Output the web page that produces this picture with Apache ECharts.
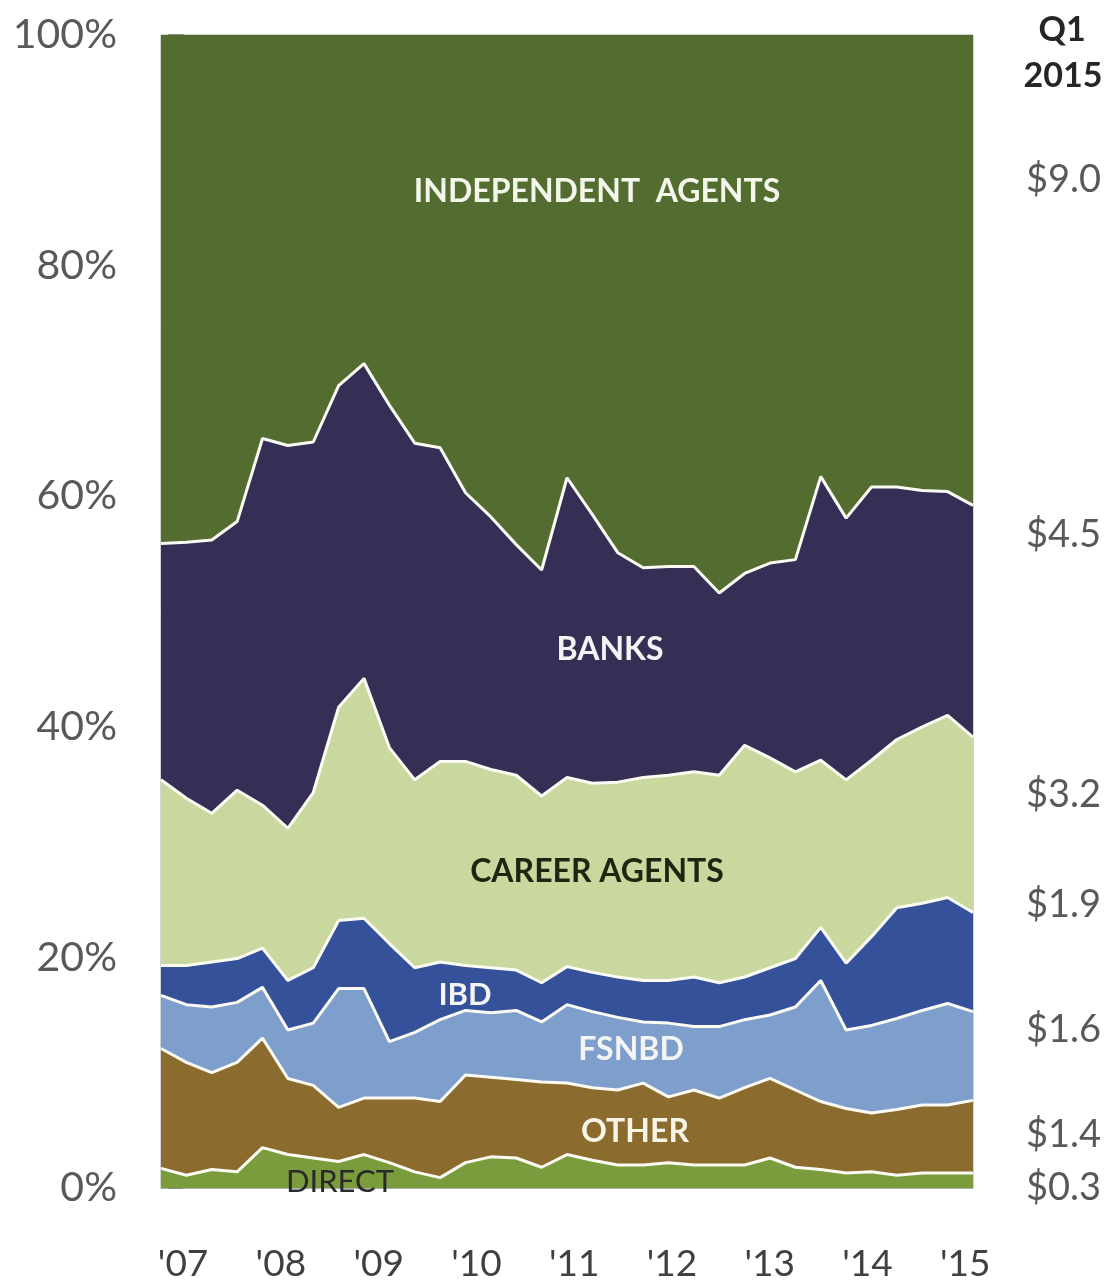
<!DOCTYPE html>
<html>
<head>
<meta charset="utf-8">
<script src="https://cdn.jsdelivr.net/npm/echarts@6/dist/echarts.min.js"></script>
<style>
html,body{margin:0;padding:0;background:#fff;}
#chart{width:1116px;height:1285px;}
</style>
</head>
<body>
<div id="chart"></div>
<script>
// Quarterly categories Q1 2007 .. Q1 2015
const quarters = [];
for (let y = 2007; y <= 2015; y++) {
  for (let q = 1; q <= 4; q++) {
    if (y === 2015 && q > 1) break;
    quarters.push('Q' + q + ' ' + y);
  }
}
const yearLabels = ["'07", "'08", "'09", "'10", "'11", "'12", "'13", "'14", "'15"];
const yTickLabels = ['0%', '20%', '40%', '60%', '80%', '100%'];

// Market share (%) by channel
const direct = [1.7,1.1,1.6,1.4,3.5,2.9,2.6,2.3,2.9,2.2,1.4,0.9,2.2,2.7,2.6,1.8,2.9,2.4,2.0,2.0,2.2,2.0,2.0,2.0,2.6,1.8,1.6,1.3,1.4,1.1,1.3,1.3,1.3];
const other = [10.4,9.8,8.4,9.5,9.5,6.6,6.3,4.7,4.9,5.6,6.4,6.6,7.6,6.9,6.8,7.4,6.2,6.3,6.5,7.1,5.7,6.5,5.8,6.7,6.9,6.7,5.9,5.6,5.1,5.7,5.9,5.9,6.3];
const fsnbd = [4.6,5.0,5.7,5.2,4.4,4.2,5.4,10.3,9.5,4.9,5.7,7.1,5.6,5.6,6.0,5.2,6.8,6.6,6.3,5.3,6.4,5.5,6.2,5.9,5.5,7.2,10.5,6.8,7.6,7.9,8.2,8.8,7.7];
const ibd = [2.6,3.4,3.9,3.8,3.4,4.3,4.8,5.9,6.1,8.5,5.6,5.0,3.9,3.9,3.5,3.4,3.3,3.4,3.5,3.6,3.7,4.3,3.8,3.7,4.1,4.2,4.6,5.8,7.7,9.6,9.3,9.2,8.6];
const careerAgents = [16.1,14.5,12.9,14.6,12.4,13.2,15.2,18.5,20.8,17.0,16.3,17.4,17.7,17.2,16.9,16.2,16.4,16.4,16.9,17.6,17.8,17.8,18.0,20.1,18.2,16.2,14.5,15.9,15.3,14.6,15.3,15.8,15.2];
const banks = [20.5,22.2,23.7,23.3,31.8,33.2,30.4,27.9,27.3,29.7,29.2,27.2,23.3,21.9,20.0,19.6,26.0,23.3,19.9,18.2,18.1,17.8,15.8,14.9,16.9,18.4,24.6,22.7,23.7,21.9,20.5,19.4,20.1];
const independentAgents = [44.1,44.0,43.8,42.2,35.0,35.6,35.3,30.4,28.5,32.1,35.4,35.8,39.7,41.8,44.2,46.4,38.4,41.6,44.9,46.2,46.1,46.1,48.4,46.7,45.8,45.5,38.3,41.9,39.2,39.2,39.5,39.6,40.8];

// Q1 2015 sales annotations ($B)
const q1Values = ['$9.0', '$4.5', '$3.2', '$1.9', '$1.6', '$1.4', '$0.3'];

const FONT = 'Lato, "Open Sans", sans-serif';

const chart = echarts.init(document.getElementById('chart'), null, {renderer: 'canvas'});

const seriesDefs = [
  {name: 'DIRECT', data: direct, color: '#7a9c3c'},
  {name: 'OTHER', data: other, color: '#8c6b2e'},
  {name: 'FSNBD', data: fsnbd, color: '#7e9ecb'},
  {name: 'IBD', data: ibd, color: '#35519a'},
  {name: 'CAREER AGENTS', data: careerAgents, color: '#c9d89f'},
  {name: 'BANKS', data: banks, color: '#362f55'},
  {name: 'INDEPENDENT AGENTS', data: independentAgents, color: '#536d31'}
];

const series = seriesDefs.map((d, i) => ({
  name: d.name,
  type: 'line',
  stack: 'total',
  data: d.data,
  symbol: 'none',
  smooth: false,
  z: 20 - i,
  lineStyle: {color: '#fbfbf4', width: i === seriesDefs.length - 1 ? 0 : 3},
  areaStyle: {color: d.color, opacity: 1},
  itemStyle: {color: d.color},
  silent: true
}));

function txt(text, x, y, opts) {
  return {
    type: 'text', x: x, y: y, z: 100,
    style: Object.assign({
      text: text, fill: '#fff', font: 'bold 32px ' + FONT,
      align: 'center', verticalAlign: 'middle'
    }, opts || {})
  };
}

const graphics = [
  txt('INDEPENDENT  AGENTS', 597, 192, {fill: '#f4f6ea'}),
  txt('BANKS', 610, 650, {fill: '#f4f4f4'}),
  txt('CAREER AGENTS', 597, 872, {fill: '#1e2611'}),
  txt('IBD', 465, 995, {fill: '#f4f4f4', font: 'bold 31px ' + FONT}),
  txt('FSNBD', 631, 1050, {fill: '#f4f4f4'}),
  txt('OTHER', 635, 1132, {fill: '#f8f4e6'}),
  txt('DIRECT', 340, 1182, {fill: '#2a2a2a', font: '31px ' + FONT}),
  txt('Q1', 1062, 30, {fill: '#262626', font: 'bold 34px ' + FONT}),
  txt('2015', 1063, 76, {fill: '#262626', font: 'bold 34px ' + FONT})
];
const q1Y = [180, 535, 795, 905, 1030, 1135, 1188];
q1Values.forEach((v, i) => {
  graphics.push(txt(v, 1026, q1Y[i], {fill: '#595959', font: '38px ' + FONT, align: 'left'}));
});

chart.setOption({
  animation: false,
  backgroundColor: '#ffffff',
  grid: {left: 161, right: 143, top: 35, bottom: 97, show: true, borderColor: '#aaaaaa', borderWidth: 1},
  xAxis: [
    {
      type: 'category', data: quarters, boundaryGap: false,
      axisLine: {show: true, lineStyle: {color: '#b0b0b0', width: 1}},
      axisTick: {show: false}, axisLabel: {show: false}, splitLine: {show: false}
    },
    {
      type: 'value', position: 'bottom', min: -0.226, max: 8.08,
      axisLine: {show: false}, axisTick: {show: false}, splitLine: {show: false},
      axisLabel: {
        customValues: [0,1,2,3,4,5,6,7,8],
        formatter: v => yearLabels[Math.round(v)],
        color: '#404040', fontSize: 37, fontFamily: FONT, margin: 58
      }
    }
  ],
  yAxis: {
    type: 'value', min: 0, max: 100, interval: 20,
    axisLine: {show: true, lineStyle: {color: '#8a8a8a', width: 2}},
    axisTick: {show: true, length: 15, lineStyle: {color: '#8a8a8a', width: 2}},
    splitLine: {show: false},
    axisLabel: {
      formatter: v => yTickLabels[Math.round(v / 20)],
      color: '#595959', fontSize: 41, fontFamily: FONT, margin: 44
    }
  },
  series: series,
  graphic: graphics
});
</script>
</body>
</html>
